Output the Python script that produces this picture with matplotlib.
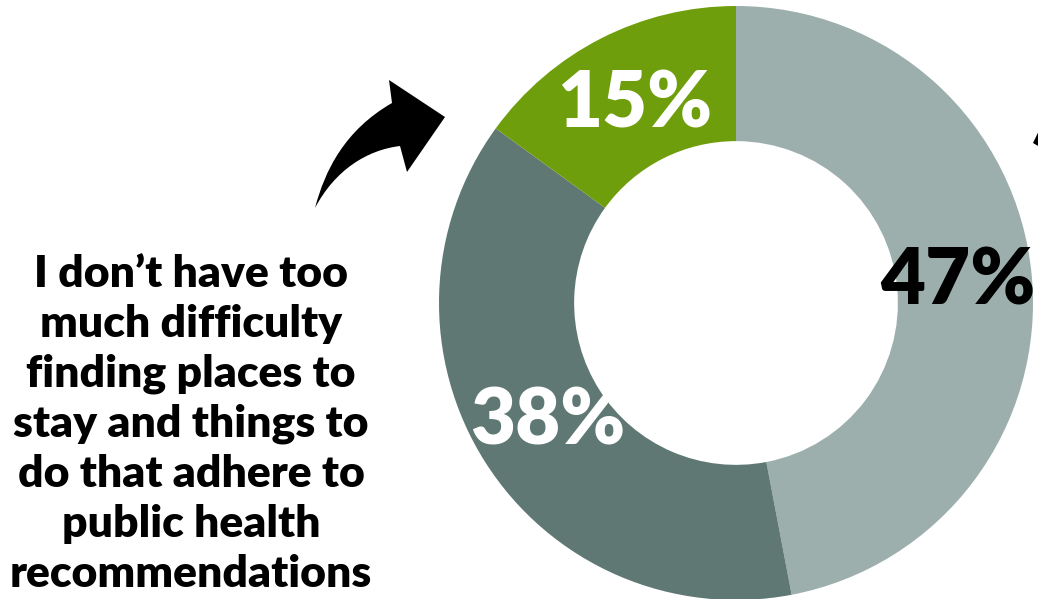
import matplotlib.pyplot as plt
from matplotlib.path import Path
from matplotlib.patches import PathPatch, Polygon

# data
shares = [47, 38, 15]
labels = ["47%", "38%", "15%"]
colors = ["#9cafac", "#5f7873", "#6f9e0c"]
label_colors = ["black", "white", "white"]
caption = ("I don\u2019t have too\nmuch difficulty\nfinding places to\n"
           "stay and things to\ndo that adhere to\npublic health\nrecommendations")

W, H = 1038, 599
fig = plt.figure(figsize=(W / 100, H / 100), dpi=100)
fig.patch.set_facecolor("white")

# donut: center (736, 303) px, radius 297 px
cx, cy, R = 736, 303, 297
ax = fig.add_axes([(cx - R) / W, (H - cy - R) / H, 2 * R / W, 2 * R / H])
wedges, texts, autotexts = ax.pie(
    shares, colors=colors, startangle=90, counterclock=False,
    radius=1, wedgeprops=dict(width=0.455, edgecolor="none"),
    autopct=lambda p: "", pctdistance=0.75,
)
for t, lab, c in zip(autotexts, labels, label_colors):
    t.set_text(lab)
    t.set_color(c)
    t.set_fontsize(56)
    t.set_fontfamily(["Lato", "DejaVu Sans"])
    t.set_fontweight("heavy")
ax.set_xlim(-1, 1)
ax.set_ylim(-1, 1)
ax.set_aspect("equal")
ax.axis("off")

# caption on the left
fig.text(191 / W, 1 - 424 / H, caption, ha="center", va="center",
         fontsize=32, fontweight="heavy", family=["Lato", "DejaVu Sans"],
         linespacing=1.3, color="black")


# curved arrow, figure pixel coords (y from top)
def p(x, y):
    return (x, H - y)


verts = [
    p(315, 208),
    p(325, 170), p(345, 130), p(392, 103),   # upper shaft curve
    p(389, 80),                               # head top
    p(445, 117),                              # tip
    p(407, 172),                              # head bottom
    p(400, 146),                              # shaft junction
    p(367, 150), p(335, 170), p(315, 208),   # lower shaft curve
    p(315, 208),
]
codes = [Path.MOVETO, Path.CURVE4, Path.CURVE4, Path.CURVE4,
         Path.LINETO, Path.LINETO, Path.LINETO, Path.LINETO,
         Path.CURVE4, Path.CURVE4, Path.CURVE4, Path.CLOSEPOLY]
arrow = PathPatch(Path(verts, codes), facecolor="black", edgecolor="none",
                  transform=None)
fig.patches.append(arrow)

# tip of a second arrow cut off at the right edge
tip = Polygon([p(1033, 143), p(1045, 118), p(1045, 150)], closed=True,
              facecolor="black", edgecolor="none", transform=None)
fig.patches.append(tip)

fig.savefig("out.png", dpi=100, facecolor="white")
